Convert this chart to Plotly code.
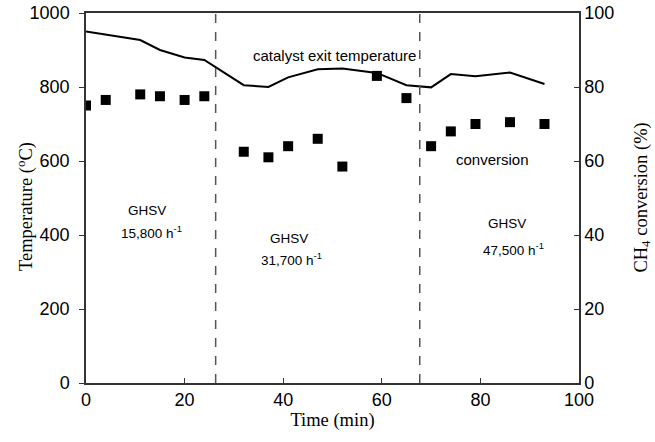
import plotly.graph_objects as go

# Data
time_min = [0, 4, 11, 15, 20, 24, 32, 37, 41, 47, 52, 59, 65, 70, 74, 79, 86, 93]
exit_temp_c = [950, 941, 927, 900, 880, 873, 805, 800, 826, 848, 850, 838, 805, 799, 835, 829, 839, 808]
ch4_conversion = [75, 76.5, 78, 77.5, 76.5, 77.5, 62.5, 61, 64, 66, 58.5, 83, 77, 64, 68, 70, 70.5, 70]
ghsv_boundaries = [26.3, 67.7]
x_ticks = [0, 20, 40, 60, 80, 100]
temp_ticks = [0, 200, 400, 600, 800, 1000]
conv_ticks = [0, 20, 40, 60, 80, 100]

SANS = "Liberation Sans, Arial, sans-serif"
SERIF = "Liberation Serif, Times New Roman, serif"

fig = go.Figure()
fig.add_trace(go.Scatter(x=time_min, y=exit_temp_c, mode="lines",
                         line=dict(color="black", width=2), showlegend=False))
fig.add_trace(go.Scatter(x=time_min, y=ch4_conversion, mode="markers", yaxis="y2",
                         marker=dict(symbol="square", size=10, color="black"),
                         showlegend=False))

for b in ghsv_boundaries:
    fig.add_shape(type="line", xref="x", yref="paper", x0=b, x1=b, y0=0, y1=1,
                  line=dict(color="#555555", width=1.5, dash="dash"))

ann_font = dict(family=SANS, size=15, color="black")
small_font = dict(family=SANS, size=13.5, color="black")
annos = [
    dict(x=50.5, y=886, text="catalyst exit temperature", font=ann_font),
    dict(x=82.5, y=603, text="conversion", font=ann_font),
    dict(x=12.3, y=465, text="GHSV", font=small_font),
    dict(x=13.2, y=408, text="15,800 h<sup>-1</sup>", font=small_font),
    dict(x=41.2, y=390, text="GHSV", font=small_font),
    dict(x=41.6, y=336, text="31,700 h<sup>-1</sup>", font=small_font),
    dict(x=85.4, y=432, text="GHSV", font=small_font),
    dict(x=86.8, y=363, text="47,500 h<sup>-1</sup>", font=small_font),
]
for a in annos:
    fig.add_annotation(xref="x", yref="y", showarrow=False, **a)

fig.add_annotation(xref="paper", yref="paper", x=-0.124, y=0.478, xanchor="center", yanchor="middle",
                   text="Temperature (<sup>o</sup>C)", textangle=-90, showarrow=False,
                   font=dict(family=SERIF, size=18.5, color="black"))
fig.add_annotation(xref="paper", yref="paper", x=1.127, y=0.50, xanchor="center", yanchor="middle",
                   text="CH<sub>4</sub> conversion (%)", textangle=-90, showarrow=False,
                   font=dict(family=SERIF, size=18.5, color="black"))

axis_common = dict(showline=True, linecolor="#333", linewidth=1.5, showgrid=False,
                   zeroline=False, automargin=False, ticklen=5, tickcolor="#333",
                   tickfont=dict(family=SANS, size=18, color="black"))

fig.update_layout(
    width=655, height=442,
    margin=dict(l=86, r=76, t=13, b=59, autoexpand=False),
    plot_bgcolor="white", paper_bgcolor="white",
    xaxis=dict(range=[0, 100], tickvals=x_ticks, ticks="inside", mirror=True,
               title=dict(text="Time (min)", font=dict(family=SERIF, size=18.5, color="black"), standoff=2),
               **axis_common),
    yaxis=dict(range=[0, 1000], tickvals=temp_ticks, ticks="outside", ticklabelstandoff=6,
               **axis_common),
    yaxis2=dict(range=[0, 100], tickvals=conv_ticks, overlaying="y", side="right",
                ticks="inside", **axis_common),
    showlegend=False,
)

fig.write_html("out.html", config={"displayModeBar": False},
               post_script="document.body.style.margin='0';document.body.style.overflow='hidden';")
